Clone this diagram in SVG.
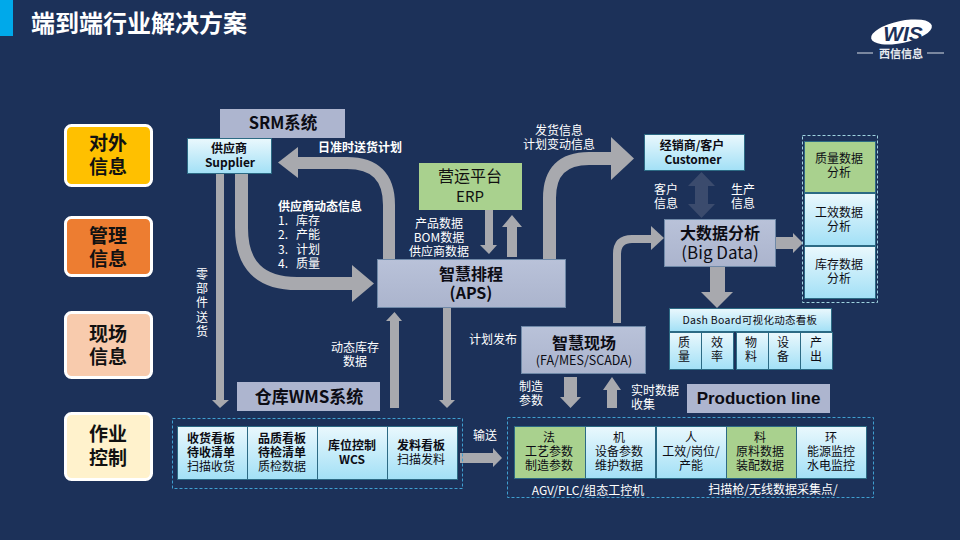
<svg xmlns="http://www.w3.org/2000/svg" width="960" height="540" viewBox="0 0 960 540">
<style>
text{font-family:"Noto Sans CJK SC","Liberation Sans",sans-serif;text-anchor:middle}
.w{fill:#fff;font-size:12px}
.wb{fill:#fff;font-size:12px;font-weight:700}
.k{fill:#0c0c14;font-size:12px}
.kb{fill:#0c0c14;font-size:12px;font-weight:700}
.side{fill:#111;font-size:19px;font-weight:700}
.side-box{stroke:#fff;stroke-width:3}
.sys{fill:#adb5cf}
.sysg{fill:url(#sys);stroke:#6f89a8;stroke-width:1}
.lt{fill:url(#lt);stroke:#2c6a84;stroke-width:1}
.gr{fill:#a9d18e;stroke:#2c6a84;stroke-width:1}
.dash{fill:none;stroke:#3f9fd0;stroke-width:1;stroke-dasharray:3 2}
.sh{fill:none;stroke:#a8a9ae}
.hd{fill:#a8a9ae;stroke:none}
</style>
<defs>
<linearGradient id="lt" x1="0" y1="0" x2="0" y2="1"><stop offset="0" stop-color="#eaf8fd"/><stop offset="1" stop-color="#a2e0f6"/></linearGradient>
<linearGradient id="sys" x1="0" y1="0" x2="0" y2="1"><stop offset="0" stop-color="#b9c2d9"/><stop offset="1" stop-color="#abb4cd"/></linearGradient>
</defs>
<rect width="960" height="540" fill="#1c3159"/>
<rect width="13" height="36" fill="#00a9ea"/>
<text x="139" y="32" style="fill:#fff;font-size:24px;font-weight:700">端到端行业解决方案</text>

<g id="logo">
<ellipse cx="901.500" cy="32" rx="31" ry="11" fill="#fff" transform="rotate(-12 901.500 32)"/>
<text x="903" y="41" style="fill:#1c3159;font-family:'Liberation Sans',sans-serif;font-size:21px;font-weight:700;font-style:italic">WIS</text>
<path d="M857 53h16M927 53h17" stroke="#d8dde6" stroke-width="1.200" fill="none"/>
<text x="901" y="57.500" style="fill:#e6e9ef;font-size:11px;font-weight:700">西信信息</text>
</g>

<g id="connectors">
<path class="sh" stroke-width="12" d="M389 259V205Q389 163 347 163H296"/>
<polygon class="hd" points="278,162.500 298,147 298,178"/>
<path class="sh" stroke-width="13" d="M241.500 174V228Q241.500 283.500 297 283.500H354"/>
<polygon class="hd" points="374,283.500 352,265 352,302"/>
<polygon class="hd" points="216,174 224,174 224,400 229,400 220,408 212,400 216,400"/>
<polygon class="hd" points="485,210 493,210 493,245 497,245 489,254 480,245 485,245"/>
<polygon class="hd" points="507,257 517,257 517,227 522,227 512,215 502,227 507,227"/>
<path class="sh" stroke-width="13" d="M549.500 259V198Q549.500 158.500 589 158.500H615"/>
<polygon class="hd" points="634,158.500 611,137 611,180"/>
<polygon points="701.500,172 715,186 708,186 708,204 715,204 701.500,218 688,204 695,204 695,186 688,186" fill="#3b4b6d"/>
<path class="sh" stroke-width="8" d="M617 323V254Q617 239 632 239H653"/>
<polygon class="hd" points="664,238 651,226 651,250"/>
<polygon class="hd" points="776,237 793,237 793,233 803,243 793,253 793,249 776,249"/>
<polygon class="hd" points="710,266 725,266 725,292 733,292 717,308 701,292 710,292"/>
<polygon class="hd" points="443,308 451,308 451,400 455,400 447,408 439,400 443,400"/>
<polygon class="hd" points="390,408 399,408 399,321 402,321 394.500,312 386,321 390,321"/>
<polygon class="hd" points="460,453 493,453 493,448 502,458 493,467 493,463 460,463"/>
<polygon class="hd" points="564,377 577,377 577,397 581,397 570.500,408 560,397 564,397"/>
<polygon class="hd" points="607,408 617,408 617,390 621,390 612,377 603,390 607,390"/>
</g>

<g id="side-1"><rect class="side-box" x="65.500" y="125.500" width="86" height="60" rx="6" fill="#ffc000"/><text class="side" x="108" y="150">对外<tspan x="108" dy="24">信息</tspan></text></g>
<g id="side-2"><rect class="side-box" x="65.500" y="217.500" width="86" height="58" rx="6" fill="#ed7d31"/><text class="side" x="108" y="243">管理<tspan x="108" dy="23">信息</tspan></text></g>
<g id="side-3"><rect class="side-box" x="65.500" y="312.500" width="86" height="65" rx="6" fill="#f8cbad"/><text class="side" x="108" y="341">现场<tspan x="108" dy="23">信息</tspan></text></g>
<g id="side-4"><rect class="side-box" x="65.500" y="413.500" width="86" height="66" rx="6" fill="#fff2cc"/><text class="side" x="108" y="441">作业<tspan x="108" dy="24">控制</tspan></text></g>

<g id="srm"><rect class="sys" x="220" y="109" width="125" height="29"/><text x="283" y="129" style="fill:#0c0c14;font-size:16.500px;font-weight:700">SRM系统</text></g>
<g id="supplier"><rect class="lt" x="187.500" y="138.500" width="84" height="35"/><text class="kb" x="229" y="153">供应商<tspan x="230" dy="14">Supplier</tspan></text></g>
<g id="erp"><rect x="419" y="163" width="103" height="47" fill="#a9d18e"/><text x="470" y="182" style="fill:#111;font-size:16px">营运平台</text><text x="470" y="202" style="fill:#111;font-size:15px">ERP</text></g>
<g id="aps"><rect class="sysg" x="377.500" y="259.500" width="188" height="48"/><text x="471" y="280" style="fill:#0c0c14;font-size:16px;font-weight:700">智慧排程<tspan x="471" dy="19">(APS)</tspan></text></g>
<g id="customer"><rect class="lt" x="644.500" y="134.500" width="100" height="36"/><text class="kb" x="692" y="150">经销商/客户<tspan x="693" dy="14">Customer</tspan></text></g>
<g id="bigdata"><rect class="sysg" x="664.500" y="219.500" width="111" height="47"/><text x="720" y="239" style="fill:#0c0c14;font-size:16px;font-weight:700">大数据分析</text><text x="720" y="259" style="fill:#0c0c14;font-size:17px">(Big Data)</text></g>

<g id="analysis">
<rect class="dash" x="802.500" y="135.500" width="75" height="167" style="stroke:#9fd4e0"/>
<rect class="gr" x="804.500" y="141.500" width="71" height="51"/><text class="k" x="839" y="163">质量数据<tspan x="839" dy="14">分析</tspan></text>
<rect class="lt" x="804.500" y="193.500" width="71" height="52"/><text class="k" x="839" y="217">工效数据<tspan x="839" dy="14">分析</tspan></text>
<rect class="lt" x="804.500" y="246.500" width="71" height="52"/><text class="k" x="839" y="269">库存数据<tspan x="839" dy="14">分析</tspan></text>
</g>

<g id="dashboard">
<rect class="lt" x="669.500" y="308.500" width="162" height="23"/><text class="k" x="750" y="324" style="font-size:10.500px;letter-spacing:.3px">Dash Board可视化动态看板</text>
<rect class="lt" x="669.500" y="332.500" width="32" height="37"/><text class="k" x="684" y="347">质<tspan x="684" dy="14">量</tspan></text>
<rect class="lt" x="701.500" y="332.500" width="32" height="37"/><text class="k" x="717" y="347">效<tspan x="717" dy="14">率</tspan></text>
<rect class="lt" x="736.500" y="332.500" width="32" height="37"/><text class="k" x="751" y="347">物<tspan x="751" dy="14">料</tspan></text>
<rect class="lt" x="768.500" y="332.500" width="32" height="37"/><text class="k" x="783" y="347">设<tspan x="783" dy="14">备</tspan></text>
<rect class="lt" x="800.500" y="332.500" width="32" height="37"/><text class="k" x="816" y="347">产<tspan x="816" dy="14">出</tspan></text>
</g>

<g id="field"><rect class="sysg" x="521.500" y="326.500" width="124" height="47"/><text x="584" y="349" style="fill:#0c0c14;font-size:16px;font-weight:700">智慧现场</text><text x="584" y="365" style="fill:#0c0c14;font-size:12.500px">(FA/MES/SCADA)</text></g>
<g id="prodline"><rect class="sys" x="687" y="384" width="143" height="29"/><text x="758.500" y="404" style="fill:#0c0c14;font-family:'Liberation Sans',sans-serif;font-size:17px;font-weight:700">Production line</text></g>
<g id="wms"><rect class="sys" x="237" y="382" width="143" height="29"/><text x="309" y="403" style="fill:#0c0c14;font-size:17px;font-weight:700">仓库WMS系统</text></g>

<g id="warehouse">
<rect class="dash" x="172.500" y="418.500" width="290" height="70"/>
<rect class="lt" x="177.500" y="426.500" width="70" height="53"/><text class="kb" x="211" y="443">收货看板<tspan x="211" dy="14">待收清单</tspan><tspan x="211" dy="14" font-weight="400">扫描收货</tspan></text>
<rect class="lt" x="247.500" y="426.500" width="70" height="53"/><text class="kb" x="282" y="443">品质看板<tspan x="282" dy="14">待检清单</tspan><tspan x="282" dy="14" font-weight="400">质检数据</tspan></text>
<rect class="lt" x="317.500" y="426.500" width="70" height="53"/><text class="kb" x="352" y="450">库位控制<tspan x="352" dy="14">WCS</tspan></text>
<rect class="lt" x="387.500" y="426.500" width="70" height="53"/><text class="kb" x="421" y="450">发料看板<tspan x="421" dy="14" font-weight="400">扫描发料</tspan></text>
</g>

<g id="production">
<rect class="dash" x="507.500" y="417.500" width="366" height="80"/>
<rect class="gr" x="514.500" y="426.500" width="71" height="52"/><text class="k" x="549" y="442">法<tspan x="549" dy="14">工艺参数</tspan><tspan x="549" dy="14">制造参数</tspan></text>
<rect class="lt" x="585.500" y="426.500" width="70" height="52"/><text class="k" x="619" y="442">机<tspan x="619" dy="14">设备参数</tspan><tspan x="619" dy="14">维护数据</tspan></text>
<rect class="lt" x="656.500" y="426.500" width="70" height="52"/><text class="k" x="691" y="442">人<tspan x="691" dy="14">工效/岗位/</tspan><tspan x="691" dy="14">产能</tspan></text>
<rect class="gr" x="726.500" y="426.500" width="70" height="52"/><text class="k" x="760" y="442">料<tspan x="760" dy="14">原料数据</tspan><tspan x="760" dy="14">装配数据</tspan></text>
<rect class="lt" x="796.500" y="426.500" width="70" height="52"/><text class="k" x="831" y="442">环<tspan x="831" dy="14">能源监控</tspan><tspan x="831" dy="14">水电监控</tspan></text>
<text class="w" x="588" y="495">AGV/PLC/组态工控机</text>
<text class="w" x="773" y="494">扫描枪/无线数据采集点/</text>
</g>

<g id="labels">
<text class="wb" x="360" y="152">日准时送货计划</text>
<text class="wb" x="320" y="211">供应商动态信息</text>
<text class="w" x="278" y="225" style="text-anchor:start">1.<tspan x="296">库存</tspan><tspan x="278" dy="14">2.</tspan><tspan x="296">产能</tspan><tspan x="278" dy="14.500">3.</tspan><tspan x="296">计划</tspan><tspan x="278" dy="14">4.</tspan><tspan x="296">质量</tspan></text>
<text class="w" x="439" y="228">产品数据<tspan x="439" dy="14">BOM数据</tspan><tspan x="439" dy="14">供应商数据</tspan></text>
<text class="w" x="559" y="135">发货信息<tspan x="559" dy="14">计划变动信息</tspan></text>
<text class="w" x="666" y="194">客户<tspan x="666" dy="14">信息</tspan></text>
<text class="w" x="743" y="194">生产<tspan x="743" dy="14">信息</tspan></text>
<text class="w" x="202" y="279">零<tspan x="202" dy="13.500">部</tspan><tspan x="202" dy="14">件</tspan><tspan x="202" dy="15">送</tspan><tspan x="202" dy="14">货</tspan></text>
<text class="w" x="355" y="352">动态库存<tspan x="355" dy="14">数据</tspan></text>
<text class="w" x="493" y="344">计划发布</text>
<text class="w" x="531" y="391">制造<tspan x="531" dy="14">参数</tspan></text>
<text class="w" x="655" y="395">实时数据<tspan x="643" dy="14">收集</tspan></text>
<text class="w" x="485" y="440">输送</text>
</g>
</svg>
